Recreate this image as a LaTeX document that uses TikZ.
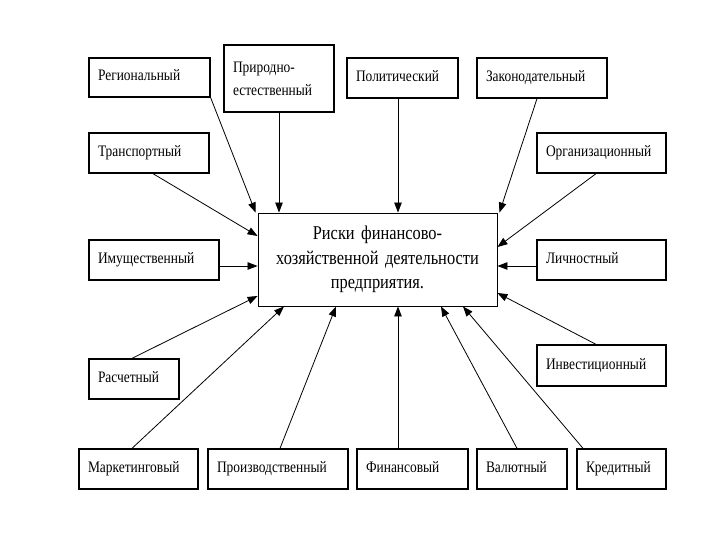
\documentclass[tikz,border=0pt]{standalone}
\usepackage{fontspec}
\setmainfont{Liberation Serif}
\newfontfamily\condfont{Liberation Serif}[FakeStretch=0.84]
\usetikzlibrary{arrows.meta}
\begin{document}
\begin{tikzpicture}[x=1pt,y=-1pt,
  riskbox/.style args={#1/#2}{draw=black,line width=1.3pt,rectangle,
    minimum width=#1pt,minimum height=#2pt,inner xsep=9pt,inner ysep=0pt,
    text width=#1pt-18pt,align=left,font=\condfont\fontsize{16}{24}\selectfont},
  oneline/.style={text height=10.5pt,text depth=3.5pt},
  mainbox/.style={draw=black,line width=0.9pt,rectangle,
    minimum width=239pt,minimum height=93pt,inner sep=0pt,
    text width=230pt,align=center,font=\condfont\fontsize{19.5}{24.5}\selectfont},
  link/.style={line width=0.8pt,-{Triangle[length=10pt,width=7.5pt]}}]
\useasboundingbox (0,0) rectangle (720,540);
\fill[white] (0,0) rectangle (720,540);

\node[mainbox] (main) at (377.5,259.5) {Риски финансово-\\хозяйственной деятельности\\предприятия.};

\node[riskbox=121/39,oneline] (reg) at (149.5,77.5) {Региональный};
\node[riskbox=110/67,font=\condfont\fontsize{16}{23}\selectfont] (nat) at (279,78.5) {Природно-\\естественный\\[-2pt]};
\node[riskbox=111/40,oneline] (pol) at (402.5,78) {Политический};
\node[riskbox=130/40,oneline] (leg) at (542,78) {Законодательный};
\node[riskbox=120/40,oneline] (tra) at (149,153) {Транспортный};
\node[riskbox=129/40,oneline] (org) at (601.5,153) {Организационный};
\node[riskbox=130/40,oneline] (prop) at (154,260) {Имущественный};
\node[riskbox=129/40,oneline] (pers) at (601.5,260) {Личностный};
\node[riskbox=90/40,oneline] (calc) at (134,379) {Расчетный};
\node[riskbox=129/41,oneline] (inv) at (601.5,365.5) {Инвестиционный};
\node[riskbox=119/40,oneline] (mkt) at (138.5,469) {Маркетинговый};
\node[riskbox=140/40,oneline] (prod) at (278,469) {Производственный};
\node[riskbox=111/40,oneline] (fin) at (412.5,469) {Финансовый};
\node[riskbox=90/40,oneline] (cur) at (522,469) {Валютный};
\node[riskbox=89/40,oneline] (cred) at (621.5,469) {Кредитный};

\coordinate (polS) at ([xshift=-4.5pt]pol.south);
\coordinate (propE) at ([yshift=-6pt]prop.east);
\coordinate (finN) at ([xshift=-14.5pt]fin.north);
\coordinate (persW) at ([yshift=-6pt]pers.west);

\draw[link] (reg.south east) -- ([xshift=-2pt]main.north west);
\draw[link] (nat.south) -- (nat.south |- main.north);
\draw[link] (polS) -- (polS |- main.north);
\draw[link] ([xshift=-5pt]leg.south) -- ([xshift=2pt]main.north east);
\draw[link] ([xshift=4pt]tra.south) -- ([yshift=23.5pt]main.west);
\draw[link] (propE) -- (main.west |- propE);
\draw[link] ([xshift=-2pt]calc.north) -- ([yshift=-36.5pt]main.west);
\draw[link] ([xshift=-6.5pt]mkt.north) -- ([xshift=-93.5pt]main.south);
\draw[link] ([xshift=2pt]prod.north) -- ([xshift=-41.5pt]main.south);
\draw[link] (finN) -- (finN |- main.south);
\draw[link] ([xshift=-5pt]cur.north) -- ([xshift=63.5pt]main.south);
\draw[link] ([xshift=-38.5pt]cred.north) -- ([xshift=85.5pt]main.south);
\draw[link] ([xshift=-5.5pt]inv.north) -- ([yshift=-33.5pt]main.east);
\draw[link] (persW) -- (main.east |- persW);
\draw[link] ([xshift=-5.5pt]org.south) -- ([yshift=12.5pt]main.east);
\end{tikzpicture}
\end{document}
